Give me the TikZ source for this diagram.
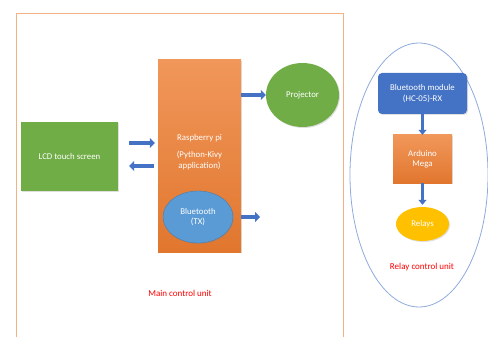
\documentclass[tikz,border=0pt]{standalone}
\usepackage{fontspec}
\setmainfont{Carlito}
\usetikzlibrary{arrows.meta,shapes.geometric,shadows}

\definecolor{boxorange}{HTML}{ED7D31}
\definecolor{boxgreen}{HTML}{70AD47}
\definecolor{boxblue}{HTML}{4472C4}
\definecolor{lightblue}{HTML}{5B9BD5}
\definecolor{boxyellow}{HTML}{FFC000}
\definecolor{frameorange}{HTML}{F4B183}
\definecolor{frameblue}{HTML}{8FAADC}

\begin{document}
\begin{tikzpicture}[x=1pt,y=-1pt,
    every node/.style={font=\fontsize{8.8}{10.5}\selectfont,text=white,align=center,inner sep=0pt},
    unit/.style={draw=none,fill=boxorange,drop shadow={opacity=0.25,shadow xshift=1pt,shadow yshift=-1pt}},
    blockarrow/.style={draw=boxblue,line width=4pt,-{Triangle[length=5pt,width=10pt]}},
    thinarrow/.style={draw=boxblue,line width=3pt,-{Triangle[length=5pt,width=8pt]}},
    caption/.style={text=red,font=\fontsize{9}{11}\selectfont}]
      \useasboundingbox (0,0) rectangle (488,337);
      % frames of the two units
      \draw[frameorange,thick] (16,337) -- (16,13) -- (343,13) -- (343,337);
      \node[draw=frameblue,thick,ellipse,minimum width=138pt,minimum height=264pt] (relayunit) at (419,175) {};
      % main control unit
      \node[unit,fill=boxgreen,minimum width=97pt,minimum height=69pt] (lcd) at (69.5,156.5) {LCD touch screen};
      \node[unit,top color=boxorange!80!white,bottom color=boxorange!95!black,minimum width=83pt,minimum height=192pt] (rpi) at (199.5,156) {};
      \node (rpitext) at (199.5,152) {Raspberry pi\\[7pt](Python-Kivy\\application)};
      \node[unit,ellipse,fill=lightblue,draw=lightblue!80!black,minimum width=70pt,minimum height=52pt] (bt) at (198,217) {Bluetooth\\(TX)};
      \node[unit,ellipse,fill=boxgreen,minimum width=73pt,minimum height=64pt] (proj) at (302.5,95) {Projector};
      \coordinate (btout) at (260,217);
      % relay control unit
      \node[unit,fill=boxblue,rounded corners=4pt,minimum width=89pt,minimum height=41pt] (btm) at (422.5,93.5) {Bluetooth module\\(HC-05)-RX};
      \node[unit,top color=boxorange!80!white,bottom color=boxorange!95!black,minimum width=59pt,minimum height=48pt] (mega) at (422.5,159) {Arduino\\Mega};
      \node[unit,ellipse,fill=boxyellow,minimum width=53pt,minimum height=34pt] (relays) at (422.5,224) {Relays};
      % connectors
      \draw[blockarrow,shorten <=11pt,shorten >=3pt] ([yshift=13.5pt]lcd.east) -- ([yshift=13.5pt]lcd.east -| rpi.west);
      \draw[blockarrow,shorten <=4pt,shorten >=11pt] ([yshift=-9.5pt]lcd.east -| rpi.west) -- ([yshift=-9.5pt]lcd.east);
      \draw[blockarrow] (rpi.east |- proj.west) -- (proj.west);
      \draw[blockarrow] (rpi.east |- bt.east) -- (btout);
      \draw[thinarrow] (btm.south) -- (mega.north);
      \draw[thinarrow,shorten >=2pt] (mega.south) -- (relays.north);
      % unit captions
      \node[caption] (maincap) at (180,293) {Main control unit};
      \node[caption] (relaycap) at (422,267) {Relay control unit};
    \end{tikzpicture}
\end{document}
